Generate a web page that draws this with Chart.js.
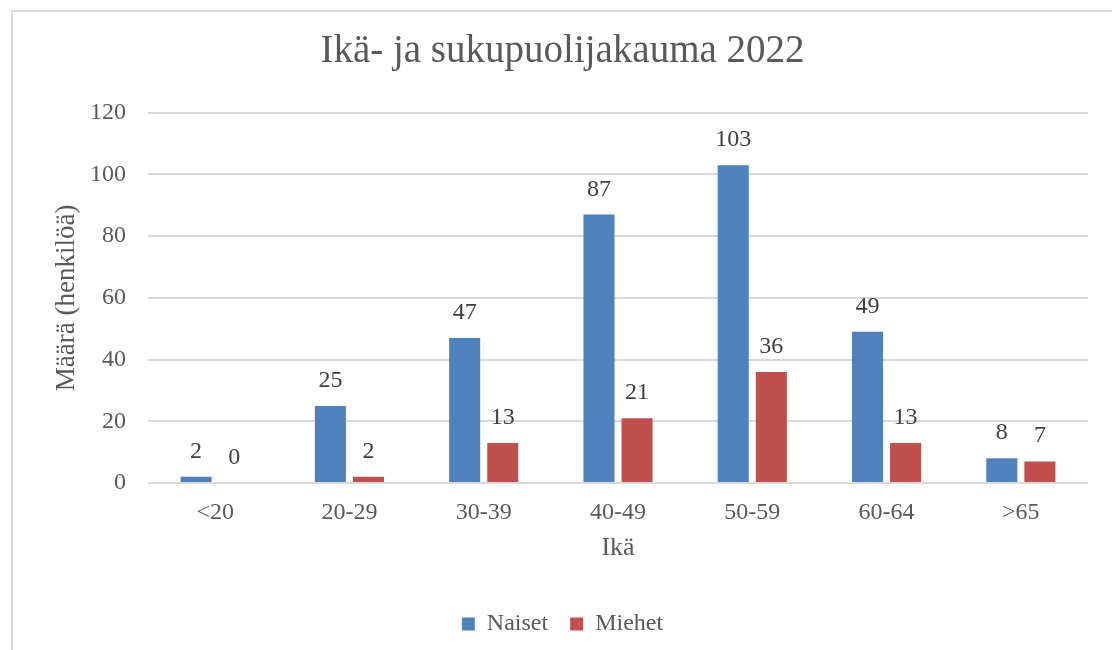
<!DOCTYPE html>
<html>
<head>
<meta charset="utf-8">
<script src="https://cdn.jsdelivr.net/npm/chart.js@4"></script>
<style>
  body { margin: 0; background: #fff; }
  #frame {
    position: absolute; left: 11px; top: 10px;
    border-left: 2px solid #d9d9d9; border-top: 2px solid #d9d9d9;
  }
  canvas { display: block; }
</style>
</head>
<body>
<div id="frame"><canvas id="myChart" width="1099" height="638"></canvas></div>
<script>
const ageGroups = ['<20', '20-29', '30-39', '40-49', '50-59', '60-64', '>65']
const naiset = [2, 25, 47, 87, 103, 49, 8]
const miehet = [0, 2, 13, 21, 36, 13, 7]
const yTicks = [0, 20, 40, 60, 80, 100, 120]

const serif = "'Liberation Serif', 'DejaVu Serif', serif"
const grey = '#595959'

// values above the bars
const barLabels = {
  id: 'barLabels',
  afterDatasetsDraw(chart) {
    const ctx = chart.ctx
    ctx.save()
    ctx.font = '24px ' + serif
    ctx.fillStyle = '#404040'
    ctx.textAlign = 'center'
    ctx.textBaseline = 'alphabetic'
    chart.data.datasets.forEach(function(ds, i) {
      chart.getDatasetMeta(i).data.forEach(function(bar, j) {
        ctx.fillText(ds.data[j], bar.x, bar.y - 19)
      })
    })
    ctx.restore()
  }
}

const ctx = document.getElementById('myChart')
const myChart = new Chart(ctx, {
  type: 'bar',
  data: {
    labels: ageGroups,
    datasets: [{
      label: 'Naiset',
      data: naiset,
      backgroundColor: '#4f81bd',
      categoryPercentage: 0.567,
      barPercentage: 0.816
    }, {
      label: 'Miehet',
      data: miehet,
      backgroundColor: '#c0504d',
      categoryPercentage: 0.567,
      barPercentage: 0.816
    }]
  },
  plugins: [barLabels],
  options: {
    responsive: false,
    animation: false,
    layout: { padding: { left: 24, right: 24, top: 0, bottom: 4 } },
    plugins: {
      title: {
        display: true,
        text: 'Ikä- ja sukupuolijakauma 2022',
        color: grey,
        font: { family: serif, size: 39, weight: 'normal' },
        padding: { top: 16, bottom: 38 }
      },
      legend: {
        position: 'bottom',
        labels: {
          color: grey,
          font: { family: serif, size: 24 },
          boxWidth: 13,
          boxHeight: 13,
          padding: 22
        }
      },
      tooltip: { enabled: false }
    },
    scales: {
      y: {
        min: 0,
        max: 120,
        afterBuildTicks: function(axis) {
          axis.ticks = yTicks.map(v => ({ value: v }))
        },
        afterFit: function(axis) { axis.width = 111 },
        border: { display: false },
        grid: { color: '#d9d9d9', lineWidth: 2, drawTicks: false },
        ticks: { color: grey, font: { family: serif, size: 24 }, padding: 22 },
        title: {
          display: true,
          text: 'Määrä (henkilöä)',
          color: grey,
          font: { family: serif, size: 27 },
          padding: { top: 14, bottom: 0 }
        }
      },
      x: {
        border: { display: false },
        grid: { display: false, drawTicks: false },
        ticks: { color: grey, font: { family: serif, size: 24 }, padding: 15 },
        title: {
          display: true,
          text: 'Ikä',
          color: grey,
          font: { family: serif, size: 26 },
          padding: { top: -9, bottom: 26 }
        }
      }
    }
  }
})
</script>
</body>
</html>
